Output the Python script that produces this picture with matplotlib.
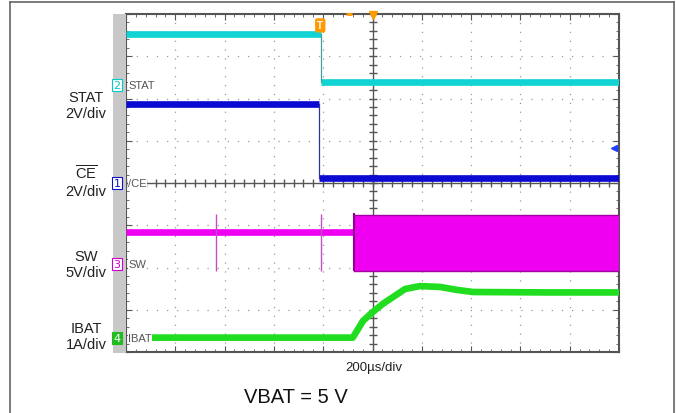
"""
Scope capture: CE / STAT / SW / IBAT start-up waveforms.
"""

import numpy as np
import matplotlib.pyplot as plt
from matplotlib.patches import Rectangle
from matplotlib.lines import Line2D

plt.rcParams["font.family"] = ["Liberation Sans", "DejaVu Sans"]
plt.rcParams["mathtext.fontset"] = "custom"
plt.rcParams["mathtext.rm"] = "Liberation Sans"

W, H = 676, 414

# traces, in scope divisions (x: 0..10, y: -4..4)
stat_t = [0.0, 3.95, 3.95, 10.0]
stat_v = [3.52, 3.52, 2.39, 2.39]

ce_t = [0.0, 3.91, 3.91, 10.0]
ce_v = [1.87, 1.87, 0.12, 0.12]

sw_base_t = [0.0, 4.62]
sw_base_v = [-1.16, -1.16]
sw_spike_t = [1.83, 3.96]
sw_spike_top = [-0.73, -0.73]
sw_spike_bot = [-2.08, -2.08]
sw_band_t = [4.62, 10.0]
sw_band_top = [-0.76, -0.76]
sw_band_bot = [-2.08, -2.08]

ibat_t = [0.45, 4.60, 4.81, 5.01, 5.21, 5.66, 5.96, 6.37, 6.71, 7.04, 8.5, 10.0]
ibat_v = [-3.66, -3.66, -3.26, -3.05, -2.86, -2.51, -2.44, -2.46, -2.53, -2.58, -2.59, -2.59]

channels = ["2", "1", "3", "4"]
channel_names = ["STAT", "/CE", "SW", "IBAT"]
channel_y = [86, 184, 265, 339]
channel_colors = ["#00cccc", "#1010c8", "#cc00cc", "#22bb22"]

side_labels = ["STAT\n2V/div", r"$\overline{\mathrm{CE}}$" + "\n2V/div", "SW\n5V/div", "IBAT\n1A/div"]
side_label_y = [106, 182, 265, 337]

CYAN = "#10d4d4"
BLUE = "#0a0ad2"
MAGENTA = "#f000f0"
GREEN = "#20dd20"


def fx(px):
    return px / W


def fy(py):
    return 1 - py / H


def step_trace(ax, t, v, color, edge):
    # thick noisy-looking levels, thin edge between them
    ax.plot(t[:2], v[:2], color=color, lw=4.8, solid_capstyle="butt", zorder=3)
    ax.plot(t[2:], v[2:], color=color, lw=4.8, solid_capstyle="butt", zorder=3)
    ax.plot(t[1:3], v[1:3], color=edge, lw=0.9, zorder=3)


fig = plt.figure(figsize=(W / 100, H / 100), dpi=100)

# outer frame
fig.add_artist(Line2D([fx(10), fx(10)], [fy(3), 0], color="#666666", lw=1.2))
fig.add_artist(Line2D([fx(10), fx(674)], [fy(3), fy(3)], color="#666666", lw=1.2))
fig.add_artist(Line2D([fx(674), fx(674)], [fy(3), 0], color="#666666", lw=1.2))

# gray strip on the left of the screen
fig.add_artist(Rectangle((fx(113), fy(354)), fx(126) - fx(113), fy(15) - fy(354),
                         facecolor="#c8c8c8", edgecolor="none"))

ax = fig.add_axes([fx(126), fy(353), fx(619) - fx(126), fy(15) - fy(353)])
ax.set_xlim(0, 10)
ax.set_ylim(-4, 4)

# dotted graticule
for gx in range(1, 10):
    if gx != 5:
        ax.axvline(gx, color="#999999", lw=0.9, ls=(0, (1, 6.1)), zorder=0)
for gy in range(-3, 4):
    if gy != 0:
        ax.axhline(gy, color="#999999", lw=0.9, ls=(0, (1, 7.1)), zorder=0)
ax.axvline(5, color="#555555", lw=1.0, zorder=1)
ax.axhline(0, color="#555555", lw=1.0, zorder=1)
ax.plot(np.full(41, 5.0), np.arange(-4, 4.01, 0.2), ls="none", marker="_",
        ms=6, color="#555555", mew=1.0, zorder=1)
ax.plot(np.arange(0, 10.01, 0.2), np.zeros(51), ls="none", marker="|",
        ms=6, color="#555555", mew=1.0, zorder=1)

ax.set_xticks(range(11))
ax.set_yticks(range(-4, 5))
ax.set_xticks(np.arange(0, 10.01, 0.2), minor=True)
ax.set_yticks(np.arange(-4, 4.01, 0.2), minor=True)
ax.tick_params(which="both", direction="in", top=True, right=True,
               labelbottom=False, labelleft=False, color="#555555")
ax.tick_params(which="major", length=4)
ax.tick_params(which="minor", length=2.5)
for s in ax.spines.values():
    s.set_color("#555555")
    s.set_linewidth(1.5)

# traces
step_trace(ax, stat_t, stat_v, CYAN, "#40a0a0")
step_trace(ax, ce_t, ce_v, BLUE, "#3030a0")

ax.plot(sw_base_t, sw_base_v, color=MAGENTA, lw=4.8, solid_capstyle="butt", zorder=3)
ax.vlines(sw_spike_t, sw_spike_bot, sw_spike_top, color="#c050c0", lw=1.0, zorder=3)
ax.fill_between(sw_band_t, sw_band_bot, sw_band_top, color=MAGENTA, lw=0, zorder=3)
ax.plot(sw_band_t, sw_band_top, color="#a000a0", lw=1.0, zorder=3)
ax.plot(sw_band_t, sw_band_bot, color="#a000a0", lw=1.0, zorder=3)
ax.vlines(sw_band_t[0], sw_band_bot[0], sw_band_top[0] + 0.05, color="#900090", lw=1.5, zorder=3)

ax.plot(ibat_t, ibat_v, color=GREEN, lw=4.8, solid_capstyle="butt", zorder=3)

# trigger markers
ax.text(3.94, 3.73, "T", color="white", fontsize=7, fontweight="bold",
        ha="center", va="center", zorder=5,
        bbox=dict(boxstyle="round,pad=0.15", fc="#ff9900", ec="#ff9900"))
ax.plot([5], [3.97], marker="v", ms=6, color="#ff9900", clip_on=False, zorder=5)
ax.plot([4.52], [4.0], marker="_", ms=5, mew=2, color="#ff9900", clip_on=False, zorder=5)
ax.plot([9.9], [0.83], marker="<", ms=5, color="#2040ff", clip_on=False, zorder=5)

# channel markers
for ch, name, py, col in zip(channels, channel_names, channel_y, channel_colors):
    filled = ch == "4"
    fig.text(fx(117), fy(py), ch, fontsize=8, ha="center", va="center",
             color="white" if filled else col, family="DejaVu Sans",
             bbox=dict(boxstyle="square,pad=0.12", fc=col if filled else "white",
                       ec=col, lw=0.8))
    fig.text(fx(128), fy(py), name, fontsize=8, ha="left", va="center",
             color="#555555",
             family=["DejaVu Sans Condensed", "Liberation Sans Narrow", "Liberation Sans"],
             bbox=dict(boxstyle="square,pad=0.0", fc="white", ec="none"))

# side labels
for text, py in zip(side_labels, side_label_y):
    fig.text(fx(86), fy(py), text, fontsize=10.5, ha="center", va="center",
             color="#222222", linespacing=1.2)

fig.text(fx(374), fy(368), "200\u00b5s/div", fontsize=9.5, ha="center", va="center",
         color="#222222")
fig.text(fx(296), fy(398), "VBAT = 5 V", fontsize=14.5, ha="center", va="center",
         color="#111111")

fig.savefig("out.png", dpi=100)
